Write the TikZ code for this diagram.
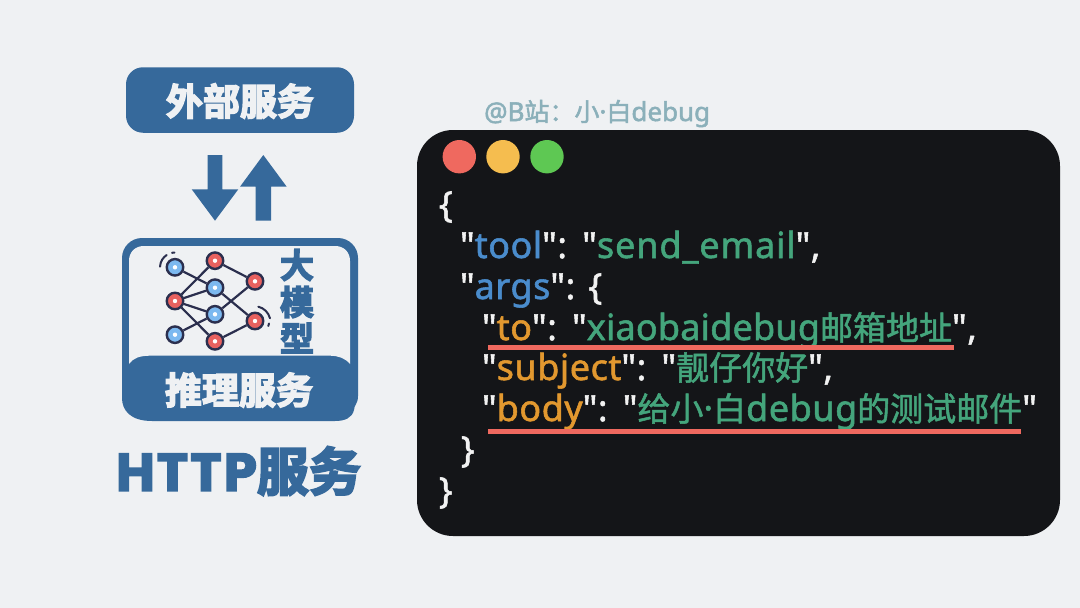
\documentclass[tikz,border=0pt]{standalone}
\usepackage{fontspec}
\setmainfont{Noto Sans}
\newfontfamily\lat{Noto Sans}[LetterSpace=1.5,FakeBold=1.5]
\newfontfamily\latn{Noto Sans}[LetterSpace=0.6,FakeBold=1.5]
\newfontfamily\latt{Noto Sans}[LetterSpace=2.5,FakeBold=1.5]
\newfontfamily\latw{Noto Sans}[FakeBold=2]
\newfontfamily\cjk{Noto Sans CJK SC}[FakeBold=1.5]
\newfontfamily\cjkm{Noto Sans CJK SC}[FakeBold=2]
\newfontfamily\cjkh{Noto Sans CJK SC}[UprightFont=* Bold,FakeBold=4]
\newfontfamily\heavylat{Poppins}[UprightFont=* Bold,FakeBold=3,LetterSpace=4]
\definecolor{bg}{HTML}{EFF1F3}
\definecolor{hblue}{HTML}{36699B}
\definecolor{panel}{HTML}{141518}
\definecolor{wm}{HTML}{8BB0BA}
\definecolor{kblue}{HTML}{4A8CCC}
\definecolor{korange}{HTML}{E2982F}
\definecolor{kgreen}{HTML}{44A57C}
\definecolor{kwhite}{HTML}{F2F2F2}
\definecolor{coral}{HTML}{EF695F}
\definecolor{amber}{HTML}{F5BD4F}
\definecolor{lime}{HTML}{5EC853}
\definecolor{nblue}{HTML}{7CB9F0}
\definecolor{nred}{HTML}{E8615F}
\definecolor{ink}{HTML}{2B2F4E}
\tikzset{
  codeline/.style={anchor=base west,inner sep=0,outer sep=0,text=kwhite,font=\fontsize{36}{36}\selectfont\lat},
  heavy/.style={inner sep=0,outer sep=0,font=\fontsize{37}{37}\selectfont\cjkh},
  heavyside/.style={inner sep=0,outer sep=0,font=\fontsize{34}{34}\selectfont\cjkh},
  neuron/.style={circle,draw=ink,line width=2.4pt,minimum size=16.5pt,inner sep=0},
  nb/.style={neuron,fill=nblue},
  nr/.style={neuron,fill=nred},
  wire/.style={draw=ink,line width=2.2pt},
  arrowshape/.style={fill=hblue},
  ul/.style={draw=coral,line width=4.5pt},
  lamp/.style={circle,minimum size=33.4pt,inner sep=0}
}
\newcommand{\tk}[1]{\textcolor{kblue}{#1}}
\newcommand{\ok}[1]{\textcolor{korange}{#1}}
\newcommand{\gs}[1]{\textcolor{kgreen}{#1}}
\newcommand{\zh}[1]{{\fontsize{33}{33}\selectfont\cjk #1}}
\newcommand{\cs}{":\hspace{2pt} "}
\begin{document}
\begin{tikzpicture}[x=1pt,y=-1pt]
\useasboundingbox (0,0) rectangle (1080,608);
\fill[bg] (0,0) rectangle (1080,608);
% top box
\node[fill=hblue,rounded corners=17pt,minimum width=228pt,minimum height=65.5pt,inner sep=0] (ext) at (240,100) {};
\node[heavy,text=bg] (extt) at (240,101) {外部服务};
% arrows
\fill[arrowshape] (207.7,155) -- (222.3,155) -- (222.3,189.3) -- (238.3,189.3) -- (215,220.7) -- (191.7,189.3) -- (207.7,189.3) -- cycle;
\fill[arrowshape] (263.3,155) -- (286.7,186.7) -- (271,186.7) -- (271,220.7) -- (255.7,220.7) -- (255.7,186.7) -- (240,186.7) -- cycle;
% model box
\fill[hblue] (122,398) [rounded corners=20pt] -- (122,238) -- (358,238) [sharp corners] -- (358,396) .. controls (358,404) and (354,405) .. (354,410) .. controls (352,418) and (345,421) .. (335,421) -- (152,421) .. controls (130,421) and (122,410) .. (122,398) -- cycle;
\fill[bg] (129,364) -- (129,261) .. controls (129,252) and (135,246) .. (144,246) -- (335,246) .. controls (344,246) and (350,252) .. (350,261) -- (350,364) .. controls (345,358) and (338,355.7) .. (330,355.7) -- (150,355.7) .. controls (140,355.7) and (133,358) .. (129,364) -- cycle;
% neurons
\node[nb] (n1) at (175,267.3) {};
\node[nr] (n2) at (215,260.7) {};
\node[nr] (n3) at (255,281.3) {};
\node[nb] (n4) at (215,287.7) {};
\node[nr] (n5) at (175,301) {};
\node[nb] (n6) at (215,314.3) {};
\node[nr] (n7) at (255,321) {};
\node[nb] (n8) at (175,334.7) {};
\node[nr] (n9) at (215,341.3) {};
\foreach \a/\b in {n1/n4,n4/n7,n2/n5,n2/n3,n5/n4,n5/n6,n5/n9,n6/n3,n6/n8,n9/n7}
  \draw[wire] (\a) -- (\b);
\foreach \n in {n1,n2,n3,n4,n5,n6,n7,n8,n9}
  \fill[white] (\n) circle (2.2pt);
\draw[ink,line width=2pt,line cap=round] (160,266.7) .. controls (160.5,261) and (163,257.5) .. (166.7,255);
\draw[ink,line width=2pt,line cap=round] (172,252.8) -- (174.5,252.5);
\draw[ink,line width=2pt,line cap=round] (258.3,306.7) .. controls (264,308) and (268.5,312.5) .. (270,318.3);
\draw[ink,line width=2pt,line cap=round] (269,323.5) -- (268.3,326);
% side text
\node[heavyside,text=hblue] (d1) at (297,265) {大};
\node[heavyside,text=hblue] (d2) at (297,302) {模};
\node[heavyside,text=hblue] (d3) at (297,338) {型};
\node[heavy,text=bg] (infer) at (239,390) {推理服务};
\node[inner sep=0,text=hblue,font=\fontsize{53}{53}\selectfont\heavylat] (http) at (238.5,471) {HTTP{\cjkh\fontsize{52}{52}\selectfont 服务}};
% panel
\node[fill=panel,rounded corners=36pt,minimum width=643pt,minimum height=406pt,inner sep=0] (panelbox) at (738.5,333) {};
\node[lamp,fill=coral] (l1) at (459.3,156.7) {};
\node[lamp,fill=amber] (l2) at (503,156.7) {};
\node[lamp,fill=lime] (l3) at (547,156.7) {};
\node[inner sep=0,text=wm,anchor=base west,font=\fontsize{26}{26}\selectfont\latw] (mark) at (484,121) {@B{\fontsize{25}{25}\selectfont\cjkm 站：小}·{\fontsize{25}{25}\selectfont\cjkm 白}debug};
% code
\node[codeline] (c1) at (439,217) {\{};
\node[codeline] (c2) at (460,258) {"\tk{tool}\cs\gs{\latt send\_email}",};
\node[codeline] (c3) at (460,299) {"\tk{args}": \{};
\node[codeline] (c4) at (482,340) {"\ok{to}\cs\gs{\latn xiaobaidebug\zh{邮箱地址}}",};
\node[codeline] (c5) at (482,380) {"\ok{subject}\cs\gs{\zh{靓仔你好}}",};
\node[codeline] (c6) at (482,421) {"\ok{body}\cs\gs{\zh{给小}·\zh{白}debug\zh{的测试邮件}}"};
\node[codeline] (c7) at (461,462) {\}};
\node[codeline] (c8) at (439,503) {\}};
\coordinate (u1a) at (488,347.3); \coordinate (u1b) at (954,347.3);
\coordinate (u2a) at (488,431.3); \coordinate (u2b) at (1021,431.3);
\draw[ul] (u1a) -- (u1b);
\draw[ul] (u2a) -- (u2b);
\end{tikzpicture}
\end{document}
